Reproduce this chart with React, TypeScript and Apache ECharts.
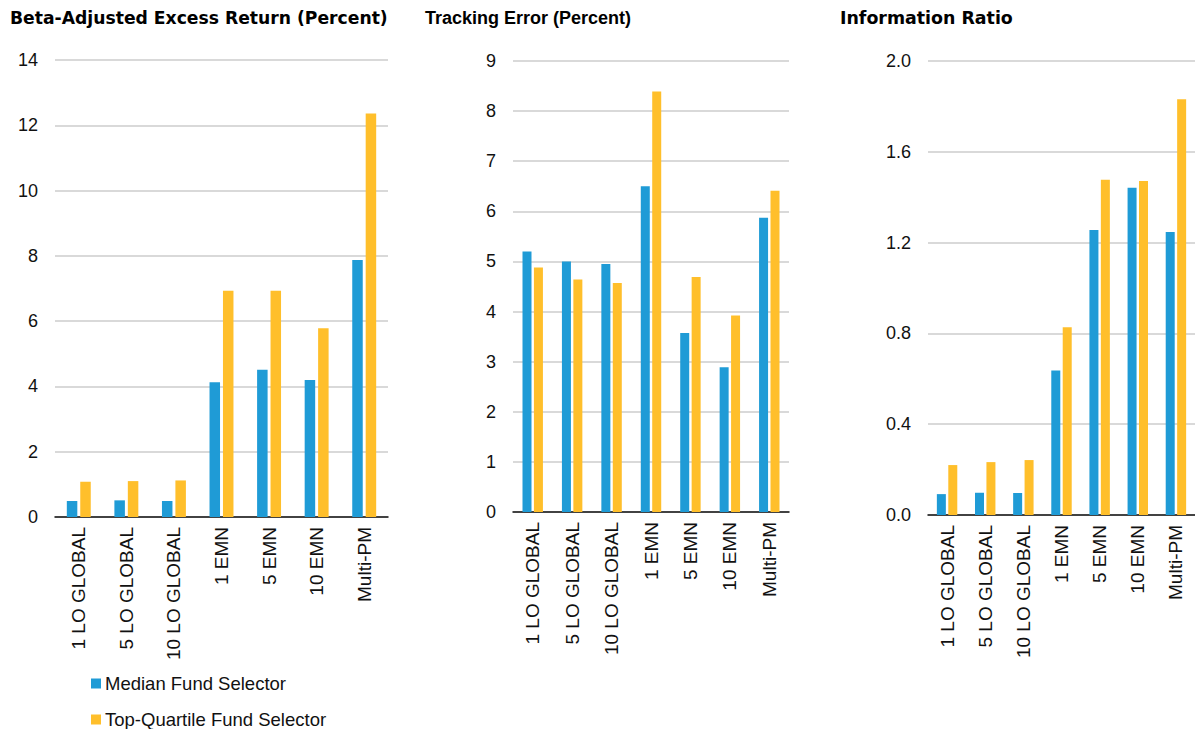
import React, { useEffect, useRef } from "react";
import * as echarts from "echarts";

const categories = ["1 LO GLOBAL", "5 LO GLOBAL", "10 LO GLOBAL", "1 EMN", "5 EMN", "10 EMN", "Multi-PM"];
const seriesNames = ["Median Fund Selector", "Top-Quartile Fund Selector"];

const excessMedian = [0.49, 0.51, 0.49, 4.13, 4.51, 4.2, 7.87];
const excessTop = [1.08, 1.1, 1.12, 6.93, 6.93, 5.78, 12.36];

const trackingMedian = [5.2, 5.0, 4.95, 6.5, 3.57, 2.89, 5.87];
const trackingTop = [4.88, 4.64, 4.57, 8.39, 4.69, 3.92, 6.41];

const infoMedian = [0.092, 0.098, 0.097, 0.637, 1.256, 1.442, 1.247];
const infoTop = [0.22, 0.233, 0.242, 0.827, 1.477, 1.471, 1.831];

const titles = ["Beta-Adjusted Excess Return (Percent)", "Tracking Error (Percent)", "Information Ratio"];
const yMax = [14, 9, 2.0];
const yInterval = [2, 1, 0.4];
const yDecimals = [0, 0, 1];

const BLUE = "#1f9bd6";
const YELLOW = "#ffbf2b";

export default function App() {
  const ref = useRef<HTMLDivElement>(null);
  useEffect(() => {
    if (!ref.current) return;
    const chart = echarts.init(ref.current, undefined, { renderer: "svg" });
    const grids = [
      { left: 55, top: 60, width: 333, height: 457 },
      { left: 513, top: 61, width: 276, height: 451 },
      { left: 928, top: 61, width: 278, height: 454 },
    ];
    const barW = [10.5, 9, 9];
    const gaps = ["28%", "27%", "27%"];
    const data = [
      [excessMedian, excessTop],
      [trackingMedian, trackingTop],
      [infoMedian, infoTop],
    ];
    const titleLeft = [10, 425, 840];
    const titleFonts = ["'DejaVu Sans', sans-serif", "'Liberation Sans', Arial, sans-serif", "'DejaVu Sans', sans-serif"];
    const titleSizes = [17.2, 18, 17.4];
    const labelFont = "'Liberation Sans', Arial, sans-serif";
    const legendTops = [674, 710];
    const option: any = {
      animation: false,
      backgroundColor: "#ffffff",
      title: titles.map((t, i) => ({
        text: t,
        left: titleLeft[i],
        top: 9,
        padding: 0,
        textStyle: {
          fontFamily: titleFonts[i],
          fontWeight: "bold",
          fontSize: titleSizes[i],
          color: "#000",
        },
      })),
      legend: seriesNames.map((n, k) => ({
        data: [n],
        orient: "vertical",
        left: 91,
        top: legendTops[k],
        padding: 0,
        icon: "rect",
        itemWidth: 10,
        itemHeight: 10,
        selectedMode: false,
        textStyle: { fontFamily: labelFont, fontSize: 18.5, color: "#111", padding: [0, 0, 0, -1] },
      })),
      grid: grids.map((g) => ({ ...g, containLabel: false })),
      xAxis: grids.map((_, i) => ({
        type: "category",
        gridIndex: i,
        data: categories,
        axisTick: { show: false },
        axisLine: { show: true, lineStyle: { color: "#111", width: 1.5 } },
        axisLabel: {
          rotate: 90,
          margin: 10,
          interval: 0,
          fontFamily: labelFont,
          fontSize: 19,
          color: "#111",
        },
      })),
      yAxis: grids.map((_, i) => ({
        type: "value",
        gridIndex: i,
        min: 0,
        max: yMax[i],
        interval: yInterval[i],
        axisLine: { show: false },
        axisTick: { show: false },
        splitLine: { show: true, lineStyle: { color: "#d9d9d9", width: 2 } },
        axisLabel: {
          margin: 17,
          fontFamily: labelFont,
          fontSize: 18,
          color: "#111",
          formatter: (v: number) => v.toFixed(yDecimals[i]),
        },
      })),
      series: data.flatMap((pair, i) =>
        pair.map((vals, j) => ({
          name: seriesNames[j],
          type: "bar",
          xAxisIndex: i,
          yAxisIndex: i,
          data: vals,
          barWidth: barW[i],
          barGap: gaps[i],
          itemStyle: { color: j === 0 ? BLUE : YELLOW },
        }))
      ),
    };
    chart.setOption(option);
    return () => chart.dispose();
  }, []);
  return (
    <div
      ref={ref}
      style={{ position: "fixed", left: 0, top: 0, width: 1195, height: 729, overflow: "hidden" }}
    />
  );
}
